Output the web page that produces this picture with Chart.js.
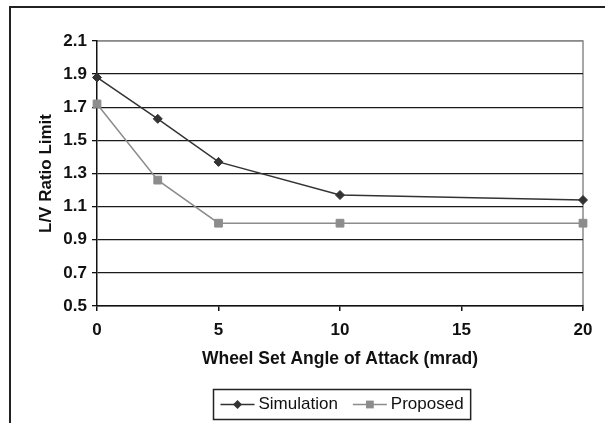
<!DOCTYPE html>
<html>
<head>
<meta charset="utf-8">
<script src="https://cdn.jsdelivr.net/npm/chart.js@4/dist/chart.umd.min.js"></script>
<style>
  html, body { margin: 0; padding: 0; background: #fff; }
  #wrap { width: 605px; height: 423px; }
</style>
</head>
<body>
<div id="wrap"><canvas id="lvChart" width="605" height="423"></canvas></div>
<script>
// values
const angleOfAttack = [0, 2.5, 5, 10, 20];
const simulationLV = [1.88, 1.63, 1.37, 1.17, 1.14];
const proposedLV = [1.72, 1.26, 1.0, 1.0, 1.0];
const seriesNames = ['Simulation', 'Proposed'];
const xTicks = [0, 5, 10, 15, 20];
const yTicks = [0.5, 0.7, 0.9, 1.1, 1.3, 1.5, 1.7, 1.9, 2.1];

const FONT = '"Liberation Sans", Arial, sans-serif';

function pairs(xs, ys) {
    return xs.map((x, i) => ({ x: x, y: ys[i] }));
}

// small marker drawer for the legend samples
function drawMarker(ctx, style, r, x, y) {
    ctx.beginPath();
    if (style === 'rectRot') {
        ctx.moveTo(x, y - r);
        ctx.lineTo(x + r, y);
        ctx.lineTo(x, y + r);
        ctx.lineTo(x - r, y);
        ctx.closePath();
    } else {
        const s = r * Math.SQRT1_2;
        ctx.rect(x - s, y - s, 2 * s, 2 * s);
    }
    ctx.fill();
}

// outer frame + gray plot border
const frame = {
    id: 'frame',
    beforeDraw(chart) {
        const ctx = chart.ctx;
        const a = chart.chartArea;
        ctx.save();
        ctx.fillStyle = '#fff';
        ctx.fillRect(0, 0, chart.width, chart.height);
        ctx.strokeStyle = '#222';
        ctx.lineWidth = 2;
        ctx.beginPath();
        ctx.moveTo(10, chart.height);
        ctx.lineTo(10, 7);
        ctx.lineTo(chart.width, 7);
        ctx.stroke();
        ctx.strokeStyle = '#8a8a8a';
        ctx.lineWidth = 1.5;
        ctx.beginPath();
        ctx.moveTo(a.left, a.top);
        ctx.lineTo(a.right, a.top);
        ctx.lineTo(a.right, a.bottom + 4);
        ctx.stroke();
        ctx.restore();
    }
};

// boxed legend under the x title
const boxLegend = {
    id: 'boxLegend',
    afterDraw(chart) {
        const ctx = chart.ctx;
        const a = chart.chartArea;
        ctx.save();
        ctx.font = '17px ' + FONT;
        const pad = 7, sample = 34, gap = 4, itemGap = 15;
        const items = chart.data.datasets.map(ds => ({ ds: ds, w: ctx.measureText(ds.label).width }));
        let total = pad * 2 + itemGap * (items.length - 1);
        items.forEach(it => { total += sample + gap + it.w; });
        const left = Math.round((a.left + a.right) / 2 - total / 2 + 2) + 0.5;
        const top = chart.height - 34 + 0.5, h = 30;
        ctx.strokeStyle = '#222';
        ctx.lineWidth = 1.5;
        ctx.strokeRect(left, top, total, h);
        let x = left + pad;
        const cy = top + h / 2;
        items.forEach(it => {
            const ds = it.ds;
            ctx.strokeStyle = ds.borderColor;
            ctx.lineWidth = ds.borderWidth;
            ctx.beginPath();
            ctx.moveTo(x, cy);
            ctx.lineTo(x + sample, cy);
            ctx.stroke();
            ctx.fillStyle = ds.pointBackgroundColor;
            drawMarker(ctx, ds.pointStyle, ds.pointRadius, x + sample / 2, cy);
            ctx.fillStyle = '#111';
            ctx.textBaseline = 'middle';
            ctx.textAlign = 'left';
            ctx.fillText(ds.label, x + sample + gap, cy);
            x += sample + gap + it.w + itemGap;
        });
        ctx.restore();
    }
};

document.addEventListener('DOMContentLoaded', function () {
    const ctx = document.getElementById('lvChart').getContext('2d');

    new Chart(ctx, {
        type: 'line',
        data: {
            datasets: [
                {
                    label: seriesNames[0],
                    data: pairs(angleOfAttack, simulationLV),
                    borderColor: '#333333',
                    borderWidth: 1.5,
                    pointStyle: 'rectRot',
                    pointRadius: 4.5,
                    pointBackgroundColor: '#333333',
                    pointBorderColor: '#333333',
                    pointBorderWidth: 1,
                    tension: 0,
                    clip: false
                },
                {
                    label: seriesNames[1],
                    data: pairs(angleOfAttack, proposedLV),
                    borderColor: '#8c8c8c',
                    borderWidth: 1.5,
                    pointStyle: 'rect',
                    pointRadius: 5.5,
                    pointBackgroundColor: '#8c8c8c',
                    pointBorderColor: '#8c8c8c',
                    pointBorderWidth: 1,
                    tension: 0,
                    clip: false
                }
            ]
        },
        options: {
            responsive: false,
            animation: false,
            layout: { padding: { top: 41, right: 22, bottom: 53, left: 0 } },
            plugins: {
                legend: { display: false },
                tooltip: { enabled: false }
            },
            scales: {
                x: {
                    type: 'linear',
                    min: 0,
                    max: 20,
                    afterBuildTicks: s => { s.ticks = xTicks.map(v => ({ value: v })); },
                    afterFit: s => { s.height = 64; },
                    grid: { drawOnChartArea: false, drawTicks: true, tickLength: 5, color: '#111', lineWidth: 1.5 },
                    border: { display: true, color: '#111', width: 1.5 },
                    ticks: { color: '#111', padding: 9, font: { family: FONT, size: 17, weight: 'bold' } },
                    title: {
                        display: true,
                        text: 'Wheel Set Angle of Attack (mrad)',
                        color: '#111',
                        padding: { top: 0, bottom: 0 },
                        font: { family: FONT, size: 17.5, weight: 'bold' }
                    }
                },
                y: {
                    min: 0.5,
                    max: 2.1,
                    afterBuildTicks: s => { s.ticks = yTicks.map(v => ({ value: v })); },
                    afterFit: s => { s.width = 97; },
                    grid: {
                        color: c => (c.tick && c.tick.value === 2.1) ? '#8a8a8a' : '#1a1a1a',
                        tickColor: '#111',
                        lineWidth: 1.3,
                        tickLength: 5
                    },
                    border: { display: true, color: '#111', width: 1.5 },
                    ticks: {
                        color: '#111',
                        padding: 5,
                        font: { family: FONT, size: 17, weight: 'bold' },
                        callback: v => Number(v).toFixed(1)
                    },
                    title: {
                        display: true,
                        text: 'L/V Ratio Limit',
                        color: '#111',
                        padding: { top: 36, bottom: 0 },
                        font: { family: FONT, size: 17, weight: 'bold' }
                    }
                }
            }
        },
        plugins: [frame, boxLegend]
    });
});
</script>
</body>
</html>
